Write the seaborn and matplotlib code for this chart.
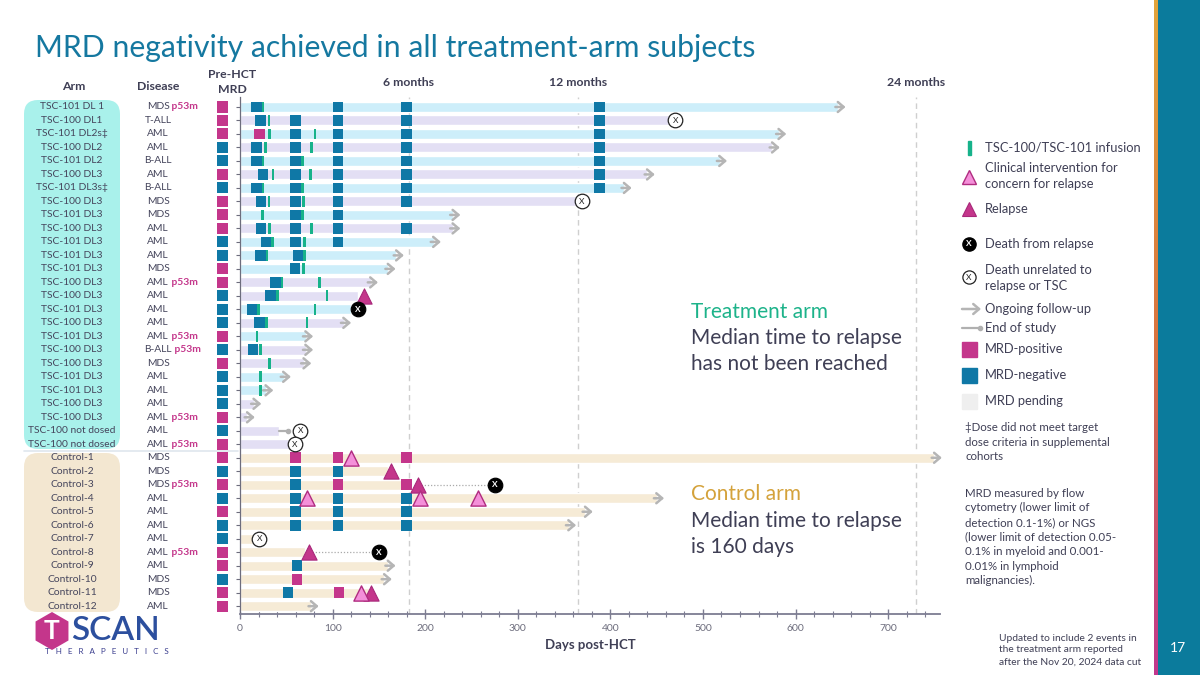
import numpy as np
import pandas as pd
import matplotlib
matplotlib.use("Agg")
import matplotlib.pyplot as plt
import matplotlib.transforms as mtrans
from matplotlib.patches import FancyBboxPatch, Rectangle, RegularPolygon
import seaborn as sns

# ---- subjects (top to bottom) ----
arms = ["TSC-101 DL 1", "TSC-100 DL1", "TSC-101 DL2s\u2021", "TSC-100 DL2", "TSC-101 DL2",
        "TSC-100 DL3", "TSC-101 DL3s\u2021", "TSC-100 DL3", "TSC-101 DL3", "TSC-100 DL3",
        "TSC-101 DL3", "TSC-101 DL3", "TSC-101 DL3", "TSC-100 DL3", "TSC-100 DL3",
        "TSC-101 DL3", "TSC-100 DL3", "TSC-101 DL3", "TSC-100 DL3", "TSC-100 DL3",
        "TSC-101 DL3", "TSC-101 DL3", "TSC-100 DL3", "TSC-100 DL3", "TSC-100 not dosed",
        "TSC-100 not dosed",
        "Control-1", "Control-2", "Control-3", "Control-4", "Control-5", "Control-6",
        "Control-7", "Control-8", "Control-9", "Control-10", "Control-11", "Control-12"]
diseases = ["MDS", "T-ALL", "AML", "AML", "B-ALL", "AML", "B-ALL", "MDS", "MDS", "AML",
            "AML", "AML", "MDS", "AML", "AML", "AML", "AML", "AML", "B-ALL", "MDS",
            "AML", "AML", "AML", "AML", "AML", "AML",
            "MDS", "MDS", "MDS", "AML", "AML", "AML", "AML", "AML", "AML", "MDS", "MDS", "AML"]
p53m = [1, 0, 0, 0, 0, 0, 0, 0, 0, 0, 0, 0, 0, 1, 0, 0, 0, 1, 1, 0, 0, 0, 0, 1, 0, 1,
        0, 0, 1, 0, 0, 0, 0, 1, 0, 0, 0, 0]
pre_mrd = ["pos", "pos", "pos", "neg", "neg", "pos", "neg", "pos", "pos", "pos", "neg", "neg",
           "pos", "pos", "neg", "neg", "neg", "pos", "neg", "pos", "neg", "neg", "neg", "pos",
           "neg", "pos",
           "pos", "neg", "pos", "neg", "pos", "neg", "neg", "pos", "pos", "neg", "pos", "pos"]
groups = ["TSC-101", "TSC-100", "TSC-101", "TSC-100", "TSC-101", "TSC-100", "TSC-101", "TSC-100",
          "TSC-101", "TSC-100", "TSC-101", "TSC-101", "TSC-101", "TSC-100", "TSC-100", "TSC-101",
          "TSC-100", "TSC-101", "TSC-100", "TSC-100", "TSC-101", "TSC-101", "TSC-100", "TSC-100",
          "TSC-100", "TSC-100"] + ["Control"] * 12
bar_end = [646, 465, 582, 575, 518, 440, 415, 363, 230, 230, 209, 169, 160, 141, 127, 120,
           112, 71, 71, 69, 47, 28, 15, 8, 42, 53,
           750, 160, 186, 450, 373, 355, 14, 70, 160, 156, 140, 77]

# ---- MRD assessments after HCT ----
mrd_row = [0, 0, 0, 0,
           1, 1, 1, 1, 1,
           2, 2, 2, 2, 2,
           3, 3, 3, 3, 3,
           4, 4, 4, 4, 4,
           5, 5, 5, 5, 5,
           6, 6, 6, 6, 6,
           7, 7, 7, 7,
           8, 8,
           9, 9, 9, 9,
           10, 10, 10,
           11, 11, 12, 13, 14, 15, 16, 18,
           26, 26, 26, 27, 27, 28, 28, 28, 29, 29, 29, 30, 30, 30, 31, 31, 31,
           34, 35, 36, 36]
mrd_day = [17.6, 106, 180, 388,
           22, 60, 106, 180, 388,
           21, 60, 106, 180, 388,
           18, 60, 106, 180, 388,
           18, 60, 106, 180, 388,
           25, 60, 106, 180, 388,
           18, 60, 106, 180, 388,
           22.7, 60, 106, 180,
           60, 106,
           22.7, 60, 106, 180,
           28, 60, 106,
           22, 62.5, 59.4, 38, 33, 13.6, 21, 14,
           60, 106, 180, 60, 106, 60, 106, 180, 60, 106, 180, 60, 106, 180, 60, 106, 180,
           61.5, 61.5, 52, 107]
mrd_status = ["neg"] * 9 + ["pos"] + ["neg"] * 45 + \
             ["pos", "pos", "pos", "neg", "neg", "neg", "pos", "pos"] + ["neg"] * 9 + \
             ["neg", "pos", "neg", "pos"]

# ---- TSC infusions ----
inf_row = [0, 1, 2, 2, 3, 3, 4, 4, 5, 5, 6, 6, 7, 7, 8, 8, 9, 9, 10, 10, 11, 11, 12,
           13, 13, 14, 14, 15, 15, 16, 16, 17, 18, 19, 20, 21]
inf_day = [24.8, 31.3, 32, 81, 27.7, 77, 24.8, 67.3, 35.6, 76, 24.8, 67.3, 31.3, 68.8,
           24, 67.3, 32, 77, 35, 70, 29, 70, 68.8, 45.5, 86, 40.5, 94, 20, 81, 28.5, 72.5,
           18.5, 22.5, 32, 22.5, 22.5]

# ---- events ----
ongoing_rows = [0, 2, 3, 4, 5, 6, 8, 9, 10, 11, 12, 13, 16, 17, 18, 19, 20, 21, 22, 23,
                26, 29, 30, 31, 34, 35, 37]
unrel_row = [1, 7, 24, 25, 32]
unrel_day = [470, 369, 65, 59, 21]
relapse_row = [14, 27, 28, 33, 36]
relapse_day = [134, 163, 192, 75, 141]
interv_row = [26, 29, 29, 29, 36]
interv_day = [120, 72, 194, 257, 131]
drel_row = [15, 28, 33]
drel_day = [127, 275, 150]
eos_row = [24]
eos_day = [52]

month_days = [182.5, 365, 730]
month_labels = ["6 months", "12 months", "24 months"]

C_NEG, C_POS, C_INF = "#0f78a6", "#c4368b", "#17b28a"
DARK = "#3f3f55"

sns.set_theme(style="white")
plt.rcParams['font.family'] = ['Lato', 'DejaVu Sans']

fig = plt.figure(figsize=(12, 6.75), dpi=100)
over = fig.add_axes([0, 0, 1, 1], zorder=0)
over.set_xlim(0, 1200)
over.set_ylim(675, 0)
over.axis('off')

ax = fig.add_axes([240 / 1200, 61 / 675, 700 / 1200, 517 / 675], zorder=2)
ax.patch.set_alpha(0)

n = len(arms)
df = pd.DataFrame({"pos": np.arange(n), "end": bar_end, "group": groups})
sns.barplot(data=df, x="end", y="pos", hue="group", orient="h", native_scale=True,
            palette={"TSC-101": "#cdeefa", "TSC-100": "#e3dff4", "Control": "#f6ebd6"},
            dodge=False, width=0.74, saturation=1, legend=False, ax=ax, zorder=1)

ax.set_xlim(0, 756)
ax.set_ylim(37.58, -0.74)

# month reference lines
for d in month_days:
    ax.axvline(d, color="#cfcfcf", ls=(0, (4, 3)), lw=1, zorder=0.5)

# MRD squares
mrd = pd.DataFrame({"row": mrd_row, "day": mrd_day, "status": mrd_status})
for st, col in [("neg", C_NEG), ("pos", C_POS)]:
    sub = mrd[mrd.status == st]
    ax.barh(sub.row, 11.5, left=sub.day - 5.75, height=0.8, color=col, zorder=3, lw=0)

# infusions
ax.barh(inf_row, 2.9, left=np.array(inf_day) - 1.45, height=0.8, color=C_INF, zorder=4, lw=0)

# pre-HCT MRD squares (left of the axis)
pre_cols = [C_POS if p == "pos" else C_NEG for p in pre_mrd]
pre = ax.barh(np.arange(n), 11.6, left=-24.8, height=0.82, color=pre_cols, zorder=3, lw=0)
for p in pre:
    p.set_clip_on(False)

# ongoing follow-up arrows
for r in ongoing_rows:
    e = bar_end[r]
    ax.annotate("", xy=(e + 8, r), xytext=(e - 3, r), annotation_clip=False,
                arrowprops=dict(arrowstyle="->,head_length=0.35,head_width=0.3",
                                color="#b5b5b5", lw=1.8, shrinkA=0, shrinkB=0), zorder=2)

# end of study
for r, d in zip(eos_row, eos_day):
    ax.plot([bar_end[r], d], [r, r], color="#b0b0b0", lw=1.6, zorder=2)
    ax.plot([d], [r], "o", color="#b0b0b0", ms=3, zorder=2)

# dotted link relapse -> death from relapse
for r, d in zip(drel_row, drel_day):
    if r in relapse_row:
        d0 = relapse_day[relapse_row.index(r)]
        ax.plot([d0, d], [r, r], color="#aaaaaa", ls=(0, (1, 1.5)), lw=0.9, zorder=2)

ev = pd.DataFrame({"day": relapse_day, "row": relapse_row})
sns.scatterplot(data=ev, x="day", y="row", marker="^", s=120, color=C_POS,
                edgecolor="#a8287a", linewidth=0.8, zorder=6, ax=ax, clip_on=False)
iv = pd.DataFrame({"day": interv_day, "row": interv_row})
sns.scatterplot(data=iv, x="day", y="row", marker="^", s=120, color="#f48fd9",
                edgecolor="#b02c80", linewidth=1.0, zorder=6, ax=ax)
dr = pd.DataFrame({"day": drel_day, "row": drel_row})
sns.scatterplot(data=dr, x="day", y="row", marker="o", s=110, color="black",
                edgecolor="black", zorder=6, ax=ax)
for r, d in zip(drel_row, drel_day):
    ax.text(d, r, "X", color="white", fontsize=6, fontweight="bold", ha="center",
            va="center", zorder=7)
du = pd.DataFrame({"day": unrel_day, "row": unrel_row})
sns.scatterplot(data=du, x="day", y="row", marker="o", s=110, color="white",
                edgecolor="#222222", linewidth=0.9, zorder=6, ax=ax)
for r, d in zip(unrel_row, unrel_day):
    ax.text(d, r, "X", color="#222222", fontsize=6, ha="center", va="center", zorder=7)

# axes styling
ax.set_xlabel("")
ax.set_ylabel("")
ax.set_yticks(np.arange(n))
ax.set_yticklabels([])
ax.set_xticks(np.arange(0, 701, 100))
ax.set_xticks(np.arange(0, 756, 20), minor=True)
ax.tick_params(axis="x", which="major", direction="inout", length=7, width=1,
               color="#7d7d92", labelsize=7.5, labelcolor="#6d6d7d", pad=4, bottom=True)
ax.tick_params(axis="x", which="minor", direction="inout", length=4, width=0.8,
               color="#7d7d92", bottom=True)
ax.tick_params(axis="y", direction="out", length=3, width=0.8, color="#6d6d7d", left=True)
for s in ["top", "right"]:
    ax.spines[s].set_visible(False)
ax.spines["bottom"].set_color("#7d7d92")
ax.spines["bottom"].set_linewidth(1.3)
ax.spines["left"].set_color("#6d6d7d")
ax.spines["left"].set_linewidth(0.9)
ax.grid(False)
ax.text(0.5, -0.06, "Days post-HCT", transform=ax.transAxes, ha="center", va="center",
        fontsize=9.5, fontweight="bold", color=DARK)

# ---- left panel: arm / disease labels ----
over.add_patch(FancyBboxPatch((24, 100), 96, 349, boxstyle="round,pad=0,rounding_size=14",
                              fc="#a9f1eb", ec="none"))
over.add_patch(FancyBboxPatch((24, 453), 96, 159, boxstyle="round,pad=0,rounding_size=14",
                              fc="#f3e7d1", ec="none"))
tr_row = mtrans.blended_transform_factory(over.transData, ax.transData)
over.plot([24, 238], [25.5, 25.5], transform=tr_row, color="#dfe6ee", lw=1.2)
for i in range(n):
    over.text(72, i, arms[i], transform=tr_row, ha="center", va="center",
              fontsize=7.4, color="#45455c")
    t = over.text(158, i, diseases[i], transform=tr_row, ha="center", va="center",
                  fontsize=7.4, color="#45455c")
    if p53m[i]:
        over.annotate(" p53m", xy=(1, 0.5), xycoords=t, ha="left", va="center",
                      fontsize=7.4, color=C_POS, fontweight="bold")

# headers
over.text(74, 87, "Arm", ha="center", va="center", fontsize=8.8, fontweight="bold", color=DARK)
over.text(158, 87, "Disease", ha="center", va="center", fontsize=8.8, fontweight="bold",
          color=DARK)
over.text(232, 82, "Pre-HCT\nMRD", ha="center", va="center", fontsize=8.8,
          fontweight="bold", color=DARK, linespacing=1.4)
tr_month = mtrans.blended_transform_factory(ax.transData, over.transData)
for d, lab in zip(month_days, month_labels):
    over.text(d, 82, lab, transform=tr_month, ha="center", va="center", fontsize=8.8,
              fontweight="bold", color=DARK)

# title
over.text(35, 48, "MRD negativity achieved in all treatment-arm subjects", ha="left",
          va="center", fontsize=21.7, color="#1578a0")

# arm summaries
over.text(691, 312, "Treatment arm", fontsize=15, color="#1db38a", va="center")
over.text(691, 351, "Median time to relapse\nhas not been reached", fontsize=15,
          color=DARK, va="center", linespacing=1.4)
over.text(691, 494, "Control arm", fontsize=15, color="#d4a23b", va="center")
over.text(691, 534, "Median time to relapse\nis 160 days", fontsize=15, color=DARK,
          va="center", linespacing=1.4)

# ---- legend ----
LX, TX = 969, 985
lfs = 9.3
over.add_patch(Rectangle((LX - 1.5, 141), 3, 14, color=C_INF))
over.text(TX, 148, "TSC-100/TSC-101 infusion", va="center", fontsize=lfs, color=DARK)
over.plot([LX], [177], marker="^", ms=10, color="#f48fd9", mec="#b02c80", mew=1)
over.text(TX, 176, "Clinical intervention for\nconcern for relapse", va="center",
          fontsize=lfs, color=DARK, linespacing=1.4)
over.plot([LX], [209], marker="^", ms=10, color=C_POS, mec="#a8287a", mew=0.8)
over.text(TX, 209, "Relapse", va="center", fontsize=lfs, color=DARK)
over.plot([LX], [244], marker="o", ms=9.5, color="black")
over.text(LX, 244, "X", color="white", fontsize=6, fontweight="bold", ha="center", va="center")
over.text(TX, 244, "Death from relapse", va="center", fontsize=lfs, color=DARK)
over.plot([LX], [277], marker="o", ms=9.5, color="white", mec="#222222", mew=0.9)
over.text(LX, 277, "X", color="#222222", fontsize=6, ha="center", va="center")
over.text(TX, 278, "Death unrelated to\nrelapse or TSC", va="center", fontsize=lfs,
          color=DARK, linespacing=1.4)
over.annotate("", xy=(981, 309), xytext=(962, 309),
              arrowprops=dict(arrowstyle="->,head_length=0.35,head_width=0.3",
                              color="#b5b5b5", lw=1.8, shrinkA=0, shrinkB=0))
over.text(TX, 309, "Ongoing follow-up", va="center", fontsize=lfs, color=DARK)
over.plot([962, 980], [328, 328], color="#b0b0b0", lw=1.6)
over.plot([980], [328], "o", color="#b0b0b0", ms=3)
over.text(TX, 328, "End of study", va="center", fontsize=lfs, color=DARK)
for y, c, lab in [(349, C_POS, "MRD-positive"), (375, C_NEG, "MRD-negative"),
                  (401, "#efefef", "MRD pending")]:
    over.add_patch(Rectangle((962, y - 7.5), 15, 15, color=c))
    over.text(TX, y, lab, va="center", fontsize=lfs, color=DARK)

over.text(965, 442, "\u2021Dose did not meet target\ndose criteria in supplemental\ncohorts",
          va="center", fontsize=8.3, color=DARK, linespacing=1.4)
over.text(965, 537, "MRD measured by flow\ncytometry (lower limit of\ndetection 0.1-1%) or NGS\n"
          "(lower limit of detection 0.05-\n0.1% in myeloid and 0.001-\n0.01% in lymphoid\n"
          "malignancies).", va="center", fontsize=8.3, color=DARK, linespacing=1.4)
over.text(999, 650, "Updated to include 2 events in\nthe treatment arm reported\n"
          "after the Nov 20, 2024 data cut", va="center", fontsize=7.4, color=DARK,
          linespacing=1.4)

# ---- right band ----
over.add_patch(Rectangle((1157, 0), 43, 675, color="#0b7b9c"))
grad = np.linspace(0, 1, 200).reshape(-1, 1)
cmap = matplotlib.colors.LinearSegmentedColormap.from_list("edge", ["#e3a43a", "#d9733f", "#c2378d"])
over.imshow(grad, cmap=cmap, extent=[1154, 1157.5, 675, 0], aspect="auto", zorder=1)
over.set_xlim(0, 1200)
over.set_ylim(675, 0)
over.text(1178, 648, "17", color="white", fontsize=10, ha="center", va="center")

# ---- logo ----
over.add_patch(RegularPolygon((52, 631), numVertices=6, radius=19, orientation=0,
                              fc="#c4368b", ec="none"))
over.text(52, 631, "T", color="white", fontsize=19, fontweight="bold", ha="center", va="center")
over.text(71, 631, "SCAN", color="#2c4f9e", fontsize=24, fontweight="semibold", ha="left",
          va="center")
over.text(45, 651, "T   H   E   R   A   P   E   U   T   I   C   S", color="#3c3f8f",
          fontsize=5.8, ha="left", va="center")

fig.savefig("out.png", dpi=100)
